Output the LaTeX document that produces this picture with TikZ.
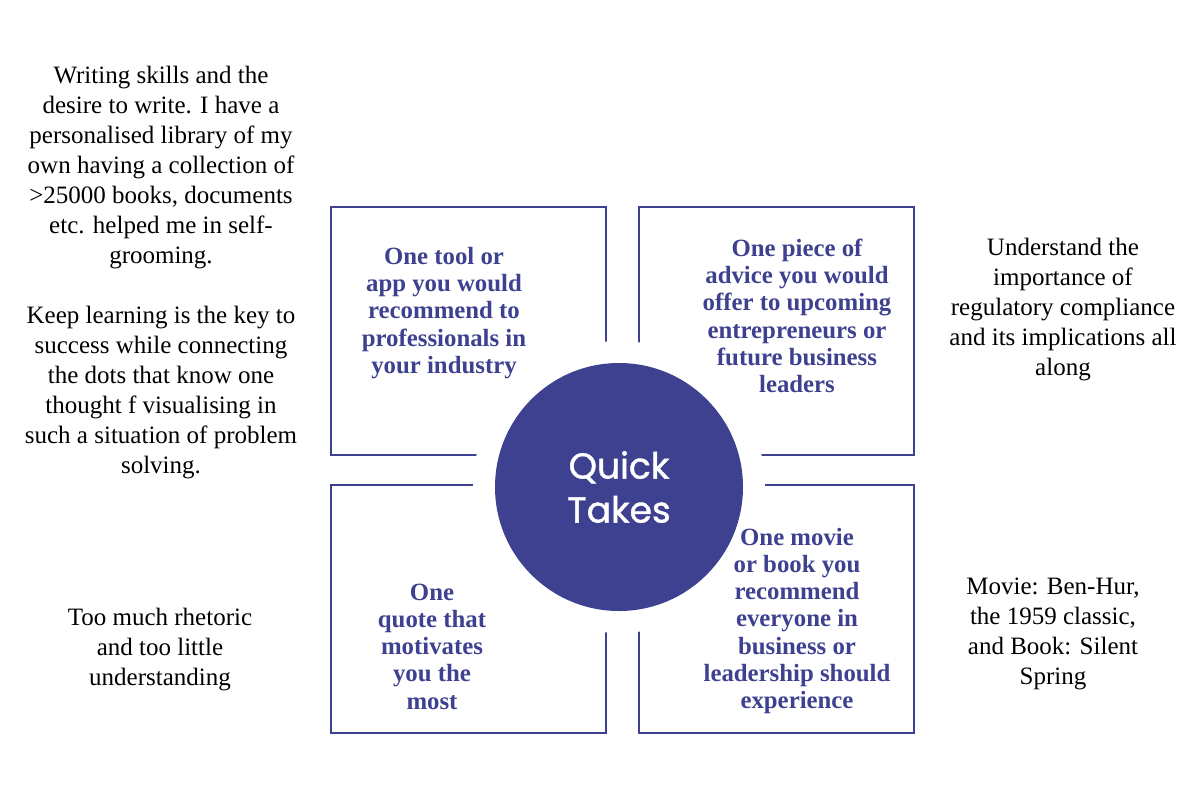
\documentclass[tikz,border=0pt]{standalone}
\usepackage{fontspec}
\setmainfont{Liberation Serif}
\newfontfamily\hubfont{Poppins}[FakeBold=1.2]
\usetikzlibrary{positioning}
\definecolor{qblue}{RGB}{61,65,143}

\begin{document}
\begin{tikzpicture}[x=0.5pt,y=-0.5pt]
  \tikzset{qbox/.style={draw=qblue,line width=1pt,minimum width=137.5pt,minimum height=124pt,inner sep=0pt,outer sep=0pt},
    ask/.style={align=center,text=qblue,font=\fontsize{12.4}{13.65}\selectfont\bfseries},
    answer/.style={align=center,font=\fontsize{12.5}{15}\selectfont}}
  \useasboundingbox (0,0) rectangle (1200,800);
  \node[qbox] (tool) at (468.5,331) {};
  \node[qbox,right=16.5pt of tool] (advice) {};
  \node[qbox,below=15pt of tool] (quote) {};
  \node[qbox,below=15pt of advice] (movie) {};
  \node[circle,fill=white,minimum size=146pt] (gap) at (619,487) {};
  \node[circle,fill=qblue,minimum size=124pt,text=white,align=center,font=\hubfont\fontsize{18}{22}\selectfont] (hub) at (619,487) {\raisebox{-1pt}{Quick}\\\raisebox{-1pt}{Takes}};
  \node[ask] (toolq) at (444,313) {One tool or\\app you would\\recommend to\\professionals in\\your industry};
  \node[ask] (adviceq) at (797,316) {One piece of\\advice you would\\offer to upcoming\\entrepreneurs or\\future business\\leaders};
  \node[ask] (quoteq) at (432,646.5) {One\\quote that\\motivates\\you the\\most};
  \node[ask] (movieq) at (797,621) {One movie\\or book you\\recommend\\everyone in\\business or\\leadership should\\experience};
  \node[answer] (toola) at (161,273) {Writing skills and the\\desire to write. I have a\\personalised library of my\\own having a collection of\\>25000 books, documents\\etc. helped me in self-\\grooming.\\[15pt]Keep learning is the key to\\success while connecting\\the dots that know one\\thought f visualising in\\such a situation of problem\\solving.};
  \node[answer] (advicea) at (1063,310) {Understand the\\importance of\\regulatory compliance\\and its implications all\\along};
  \node[answer] (quotea) at (160,650) {Too much rhetoric\\and too little\\understanding};
  \node[answer] (moviea) at (1053,634) {Movie: Ben-Hur,\\the 1959 classic,\\and Book: Silent\\Spring};
\end{tikzpicture}
\end{document}
